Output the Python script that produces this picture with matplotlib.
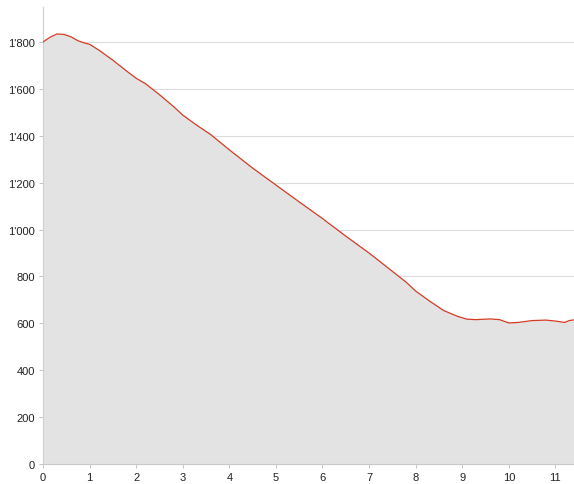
import matplotlib
matplotlib.use("Agg")
import matplotlib.pyplot as plt
import matplotlib.ticker as ticker

# profil : distance (km) / altitude (m)
distance = [0.0, 0.15, 0.3, 0.45, 0.6, 0.75, 0.9, 1.0, 1.2, 1.5, 1.8, 2.0, 2.2, 2.5,
            2.8, 3.0, 3.3, 3.6, 4.0, 4.5, 5.0, 5.5, 6.0, 6.5, 7.0, 7.5, 7.8,
            8.0, 8.3, 8.6, 8.9, 9.1, 9.3, 9.6, 9.8, 10.0, 10.2, 10.5, 10.8,
            11.0, 11.2, 11.3, 11.4]
altitude = [1800, 1820, 1834, 1832, 1822, 1805, 1795, 1790, 1765, 1722, 1675, 1645, 1622, 1575,
            1525, 1488, 1445, 1405, 1340, 1262, 1190, 1118, 1047, 972, 900, 822, 775,
            738, 695, 655, 630, 618, 616, 619, 616, 602, 604, 612, 614,
            610, 604, 612, 615]

fig = plt.figure(figsize=(5.74, 4.85), dpi=100)
ax = fig.add_axes([0.075, 0.041, 0.925, 0.943])

ax.fill_between(distance, altitude, 0, color='#e4e3e3', linewidth=0, zorder=1)
ax.plot(distance, altitude, color='#d63a25', linewidth=0.9, zorder=3)

ax.set_xlim(0, 11.4)
ax.set_ylim(0, 1950)
ax.set_xticks(range(0, 12))
ax.set_yticks(range(0, 2000, 200))
ax.yaxis.set_major_formatter(ticker.FuncFormatter(lambda v, p: f"{int(v):,}".replace(",", "'")))

ax.grid(axis='y', color='#dcdcdc', linewidth=0.8, zorder=0)
ax.set_axisbelow(True)
for s in ['top', 'right']:
    ax.spines[s].set_visible(False)
ax.spines['left'].set_color('#d0d0d0')
ax.spines['bottom'].set_color('#c8c8c8')
ax.tick_params(axis='both', labelsize=8, colors='#222222', length=3, width=0.6,
               color='#bbbbbb', pad=3)
for lab in ax.get_xticklabels() + ax.get_yticklabels():
    lab.set_family('Liberation Sans')

fig.savefig('out.png', dpi=100)
